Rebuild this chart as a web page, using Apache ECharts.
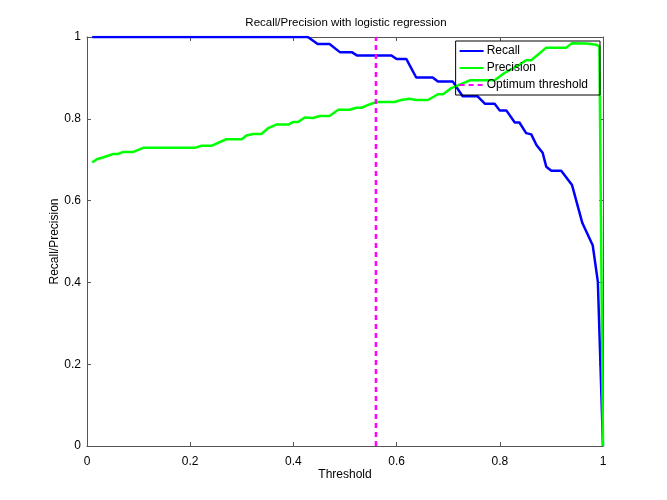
<!DOCTYPE html>
<html>
<head>
<meta charset="utf-8">
<script src="https://cdn.jsdelivr.net/npm/echarts@6/dist/echarts.min.js"></script>
<style>
html,body{margin:0;padding:0;background:#fff;}
#chart{width:667px;height:500px;}
</style>
</head>
<body>
<div id="chart"></div>
<script>
// threshold / value pairs
var recallX = [0.01, 0.428, 0.447, 0.47, 0.49, 0.513, 0.523, 0.590, 0.600, 0.619, 0.638, 0.670, 0.680, 0.709, 0.728, 0.757, 0.771, 0.790, 0.800, 0.813, 0.829, 0.838, 0.851, 0.861, 0.871, 0.883, 0.890, 0.900, 0.919, 0.940, 0.960, 0.980, 0.990, 1.0];
var recallY = [1, 1, 0.983, 0.983, 0.963, 0.963, 0.955, 0.955, 0.946, 0.946, 0.901, 0.901, 0.891, 0.891, 0.855, 0.855, 0.837, 0.837, 0.82, 0.82, 0.791, 0.791, 0.765, 0.762, 0.736, 0.717, 0.683, 0.673, 0.673, 0.638, 0.545, 0.491, 0.402, 0];

var precX = [0.01, 0.019, 0.032, 0.051, 0.061, 0.070, 0.090, 0.109, 0.209, 0.222, 0.241, 0.270, 0.300, 0.309, 0.322, 0.338, 0.351, 0.367, 0.390, 0.399, 0.409, 0.422, 0.438, 0.451, 0.470, 0.487, 0.509, 0.522, 0.532, 0.545, 0.554, 0.561, 0.596, 0.609, 0.625, 0.638, 0.661, 0.680, 0.690, 0.706, 0.742, 0.761, 0.790, 0.809, 0.838, 0.851, 0.861, 0.890, 0.929, 0.940, 0.967, 0.987, 0.993, 1.0];
var precY = [0.693, 0.701, 0.706, 0.714, 0.714, 0.719, 0.719, 0.729, 0.729, 0.734, 0.734, 0.750, 0.750, 0.759, 0.763, 0.763, 0.777, 0.786, 0.786, 0.792, 0.792, 0.803, 0.802, 0.807, 0.807, 0.822, 0.822, 0.827, 0.827, 0.834, 0.838, 0.841, 0.841, 0.846, 0.849, 0.846, 0.846, 0.860, 0.860, 0.875, 0.894, 0.894, 0.894, 0.912, 0.932, 0.943, 0.943, 0.974, 0.974, 0.985, 0.984, 0.981, 0.977, 0];

var optimumX = 0.56;
var xTicks = ['0', '0.2', '0.4', '0.6', '0.8', '1'];
var yTicks = ['0', '0.2', '0.4', '0.6', '0.8', '1'];

function pairs(xs, ys){
	var out = [];
	for (var i = 0; i < xs.length; i++) {
		out.push([xs[i], ys[i]]);
	}
	return out;
}

var font = 'Liberation Sans, Arial, Helvetica, sans-serif';
var axisCol = '#555';

function tickFmt(list){
	return function(v){
		var i = Math.round(v / 0.2);
		return list[i] !== undefined ? list[i] : '';
	};
}

var option = {
	animation: false,
	backgroundColor: '#fff',
	title: {
		text: 'Recall/Precision with logistic regression',
		left: 341,
		textAlign: 'center',
		top: 12,
		textStyle: {fontFamily: font, fontSize: 11.5, fontWeight: 'normal', color: '#000'}
	},
	legend: {
		orient: 'vertical',
		right: 67,
		top: 41,
		itemWidth: 24,
		itemHeight: 14,
		itemGap: 5,
		padding: [4, 12, 4, 3],
		borderColor: '#000',
		borderWidth: 1,
		itemStyle: {opacity: 0},
		textStyle: {fontFamily: font, fontSize: 12, color: '#000', padding: [0, 0, 0, -2]},
		data: ['Recall', 'Precision', 'Optimum threshold']
	},
	grid: {left: 87, right: 64, top: 37, bottom: 54},
	xAxis: [
		{
			type: 'value', min: 0, max: 1, interval: 0.2,
			name: 'Threshold', nameLocation: 'middle', nameGap: 23, nameMoveOverlap: false,
			nameTextStyle: {fontFamily: font, fontSize: 12, color: '#000'},
			axisLine: {show: true, onZero: false, lineStyle: {color: axisCol, width: 1}},
			axisTick: {show: true, inside: true, length: 4, lineStyle: {color: axisCol}},
			axisLabel: {fontFamily: font, fontSize: 12, color: '#000', margin: 10, formatter: tickFmt(xTicks)},
			splitLine: {show: false}
		},
		{
			type: 'value', min: 0, max: 1, interval: 0.2, position: 'top',
			axisLine: {show: true, onZero: false, lineStyle: {color: axisCol, width: 1}},
			axisTick: {show: true, inside: true, length: 4, lineStyle: {color: axisCol}},
			axisLabel: {show: false},
			splitLine: {show: false}
		}
	],
	yAxis: [
		{
			type: 'value', min: 0, max: 1, interval: 0.2,
			name: 'Recall/Precision', nameLocation: 'middle', nameGap: 26, nameMoveOverlap: false,
			nameTextStyle: {fontFamily: font, fontSize: 12, color: '#000'},
			axisLine: {show: true, onZero: false, lineStyle: {color: axisCol, width: 1}},
			axisTick: {show: true, inside: true, length: 4, lineStyle: {color: axisCol}},
			axisLabel: {fontFamily: font, fontSize: 12, color: '#000', margin: 6, formatter: tickFmt(yTicks)},
			splitLine: {show: false}
		},
		{
			type: 'value', min: 0, max: 1, interval: 0.2, position: 'right',
			axisLine: {show: true, onZero: false, lineStyle: {color: axisCol, width: 1}},
			axisTick: {show: true, inside: true, length: 4, lineStyle: {color: axisCol}},
			axisLabel: {show: false},
			splitLine: {show: false}
		}
	],
	series: [
		{
			name: 'Recall', type: 'line', symbol: 'none',
			xAxisIndex: 0, yAxisIndex: 0,
			lineStyle: {color: '#0000ff', width: 2.5},
			itemStyle: {color: '#0000ff'},
			data: pairs(recallX, recallY)
		},
		{
			name: 'Precision', type: 'line', symbol: 'none',
			xAxisIndex: 0, yAxisIndex: 0,
			lineStyle: {color: '#00ff00', width: 2.5},
			itemStyle: {color: '#00ff00'},
			data: pairs(precX, precY)
		},
		{
			name: 'Optimum threshold', type: 'line', symbol: 'none',
			xAxisIndex: 0, yAxisIndex: 0,
			lineStyle: {color: '#ff00ff', width: 2.5, type: [5, 4]},
			itemStyle: {color: '#ff00ff'},
			data: [[optimumX, 0], [optimumX, 1]]
		}
	]
};

var myChart = echarts.init(document.getElementById('chart'));
myChart.setOption(option);
</script>
</body>
</html>
